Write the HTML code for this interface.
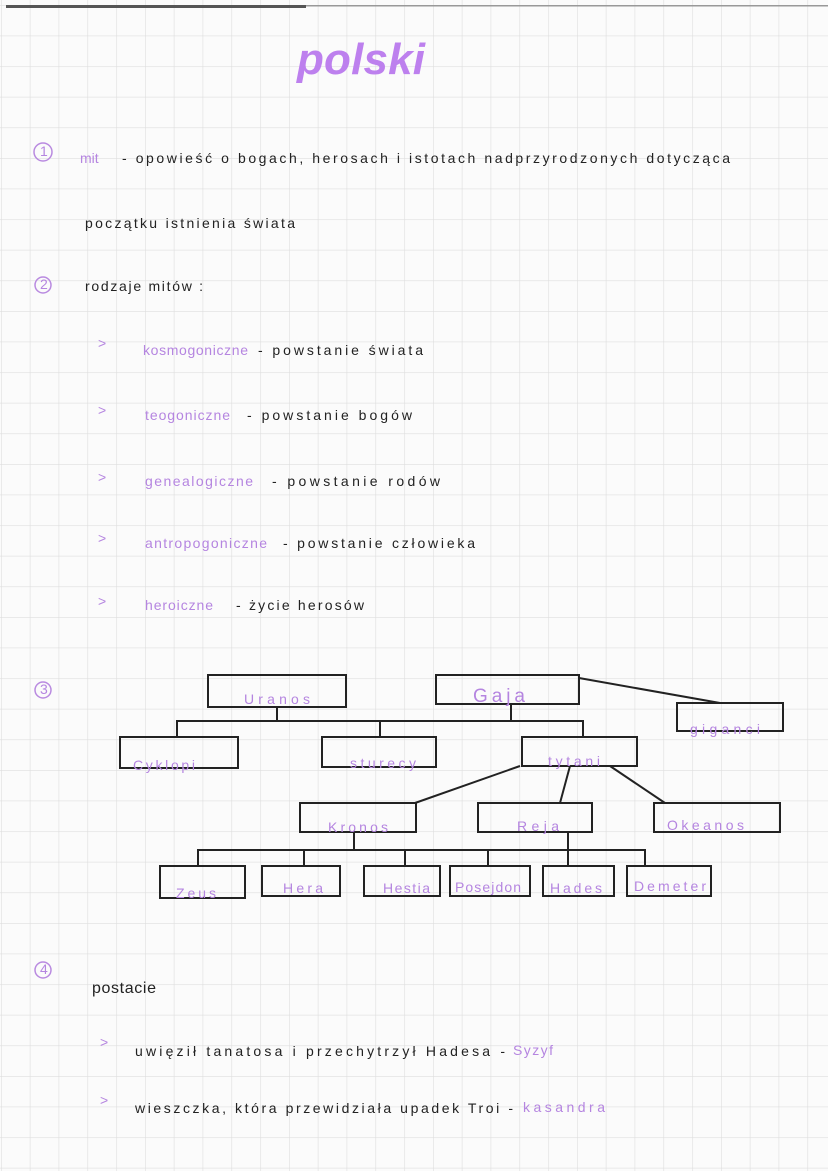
<!DOCTYPE html>
<html><head><meta charset="utf-8"><style>
html,body{margin:0;padding:0;background:#fff}
svg{display:block}
text{font-family:"Liberation Sans",sans-serif;font-size:14px;fill:#222}
.p{fill:#b585e0}
.b{fill:none;stroke:#222;stroke-width:2}
</style></head><body>
<svg width="828" height="1171" viewBox="0 0 828 1171" xmlns="http://www.w3.org/2000/svg">
<defs>
<pattern id="g" x="1" y="5" width="28.8" height="30.6" patternUnits="userSpaceOnUse">
<path d="M0 0V30.6M0 0H28.8" stroke="#dedede" stroke-width="1.2" fill="none"/>
</pattern>
</defs>
<rect width="828" height="1171" fill="#fbfbfb"/>
<rect width="828" height="1171" fill="url(#g)"/>
<rect x="6" y="5" width="300" height="3" fill="#555"/>
<rect x="306" y="5" width="522" height="1.5" fill="#999"/>
<text x="297" y="74" style="font-size:44px;font-weight:bold;font-style:italic;fill:#bd80ee" textLength="128">polski</text>

<g fill="none" stroke="#b98ae0" stroke-width="1.5">
<circle cx="43" cy="152" r="9"/><circle cx="43" cy="285" r="8"/><circle cx="43" cy="690" r="8"/><circle cx="43" cy="970" r="8"/>
</g>
<g style="font-size:11px">
<text class="p" x="40" y="156">1</text><text class="p" x="40" y="289">2</text><text class="p" x="40" y="694">3</text><text class="p" x="40" y="974">4</text>
</g>

<text class="p" x="80" y="163">mit</text>
<text x="122" y="163" textLength="608">-  opowieść   o  bogach,  herosach  i    istotach   nadprzyrodzonych   dotycząca</text>
<text x="85" y="228" textLength="210">początku  istnienia  świata</text>
<text x="85" y="291" textLength="118">rodzaje  mitów :</text>

<text class="p" x="98" y="348">&gt;</text><text class="p" x="98" y="415">&gt;</text><text class="p" x="98" y="482">&gt;</text><text class="p" x="98" y="543">&gt;</text><text class="p" x="98" y="606">&gt;</text>
<text class="p" x="143" y="355" textLength="105">kosmogoniczne</text><text x="258" y="355" textLength="165">-  powstanie   świata</text>
<text class="p" x="145" y="420" textLength="85">teogoniczne</text><text x="247" y="420" textLength="165">-    powstanie   bogów</text>
<text class="p" x="145" y="486" textLength="108">genealogiczne</text><text x="272" y="486" textLength="168">-   powstanie   rodów</text>
<text class="p" x="145" y="548" textLength="122">antropogoniczne</text><text x="283" y="548" textLength="192">-   powstanie   człowieka</text>
<text class="p" x="145" y="610" textLength="68">heroiczne</text><text x="236" y="610" textLength="128">-  życie  herosów</text>

<g class="b">
<rect x="208" y="675" width="138" height="32"/>
<rect x="436" y="675" width="143" height="29"/>
<rect x="677" y="703" width="106" height="28"/>
<rect x="120" y="737" width="118" height="31"/>
<rect x="322" y="737" width="114" height="30"/>
<rect x="522" y="737" width="115" height="29"/>
<rect x="300" y="803" width="116" height="29"/>
<rect x="478" y="803" width="114" height="29"/>
<rect x="654" y="803" width="126" height="29"/>
<rect x="160" y="866" width="85" height="32"/>
<rect x="262" y="866" width="78" height="30"/>
<rect x="364" y="866" width="76" height="30"/>
<rect x="450" y="866" width="80" height="30"/>
<rect x="543" y="866" width="71" height="30"/>
<rect x="627" y="866" width="84" height="30"/>
<path d="M277 707V721M511 704V721M177 737V721H583V737M380 721V737M579 678L720 703"/>
<path d="M520 766L415 803M570 766L560 803M610 766L665 803"/>
<path d="M354 832V850M568 832V850M198 866V850H645V866M304 850V866M405 850V866M488 850V866M568 850V866"/>
</g>
<g style="font-size:15px">
<text class="p" x="244" y="704" textLength="66">Uranos</text>
<text class="p" x="473" y="702" textLength="52" style="font-size:19px">Gaja</text>
<text class="p" x="690" y="734" textLength="70">giganci</text>
<text class="p" x="133" y="770" textLength="62">Cyklopi</text>
<text class="p" x="350" y="768" textLength="66">sturecy</text>
<text class="p" x="548" y="766" textLength="52">tytani</text>
<text class="p" x="328" y="832" textLength="60">Kronos</text>
<text class="p" x="517" y="831" textLength="42">Reja</text>
<text class="p" x="667" y="830" textLength="77">Okeanos</text>
<text class="p" x="176" y="898" textLength="40">Zeus</text>
<text class="p" x="283" y="893" textLength="40">Hera</text>
<text class="p" x="383" y="893" textLength="47">Hestia</text>
<text class="p" x="455" y="892" textLength="66">Posejdon</text>
<text class="p" x="550" y="893" textLength="52">Hades</text>
<text class="p" x="634" y="891" textLength="72">Demeter</text>
</g>

<text x="92" y="993" style="font-size:16px" textLength="64">postacie</text>
<text class="p" x="100" y="1047">&gt;</text><text class="p" x="100" y="1105">&gt;</text>
<text x="135" y="1056" textLength="370">uwięził  tanatosa    i   przechytrzył  Hadesa  -</text>
<text class="p" x="513" y="1055" textLength="40">Syzyf</text>
<text x="135" y="1113" textLength="378">wieszczka,  która  przewidziała   upadek  Troi  -</text>
<text class="p" x="523" y="1112" textLength="82">kasandra</text>
</svg>
</body></html>
